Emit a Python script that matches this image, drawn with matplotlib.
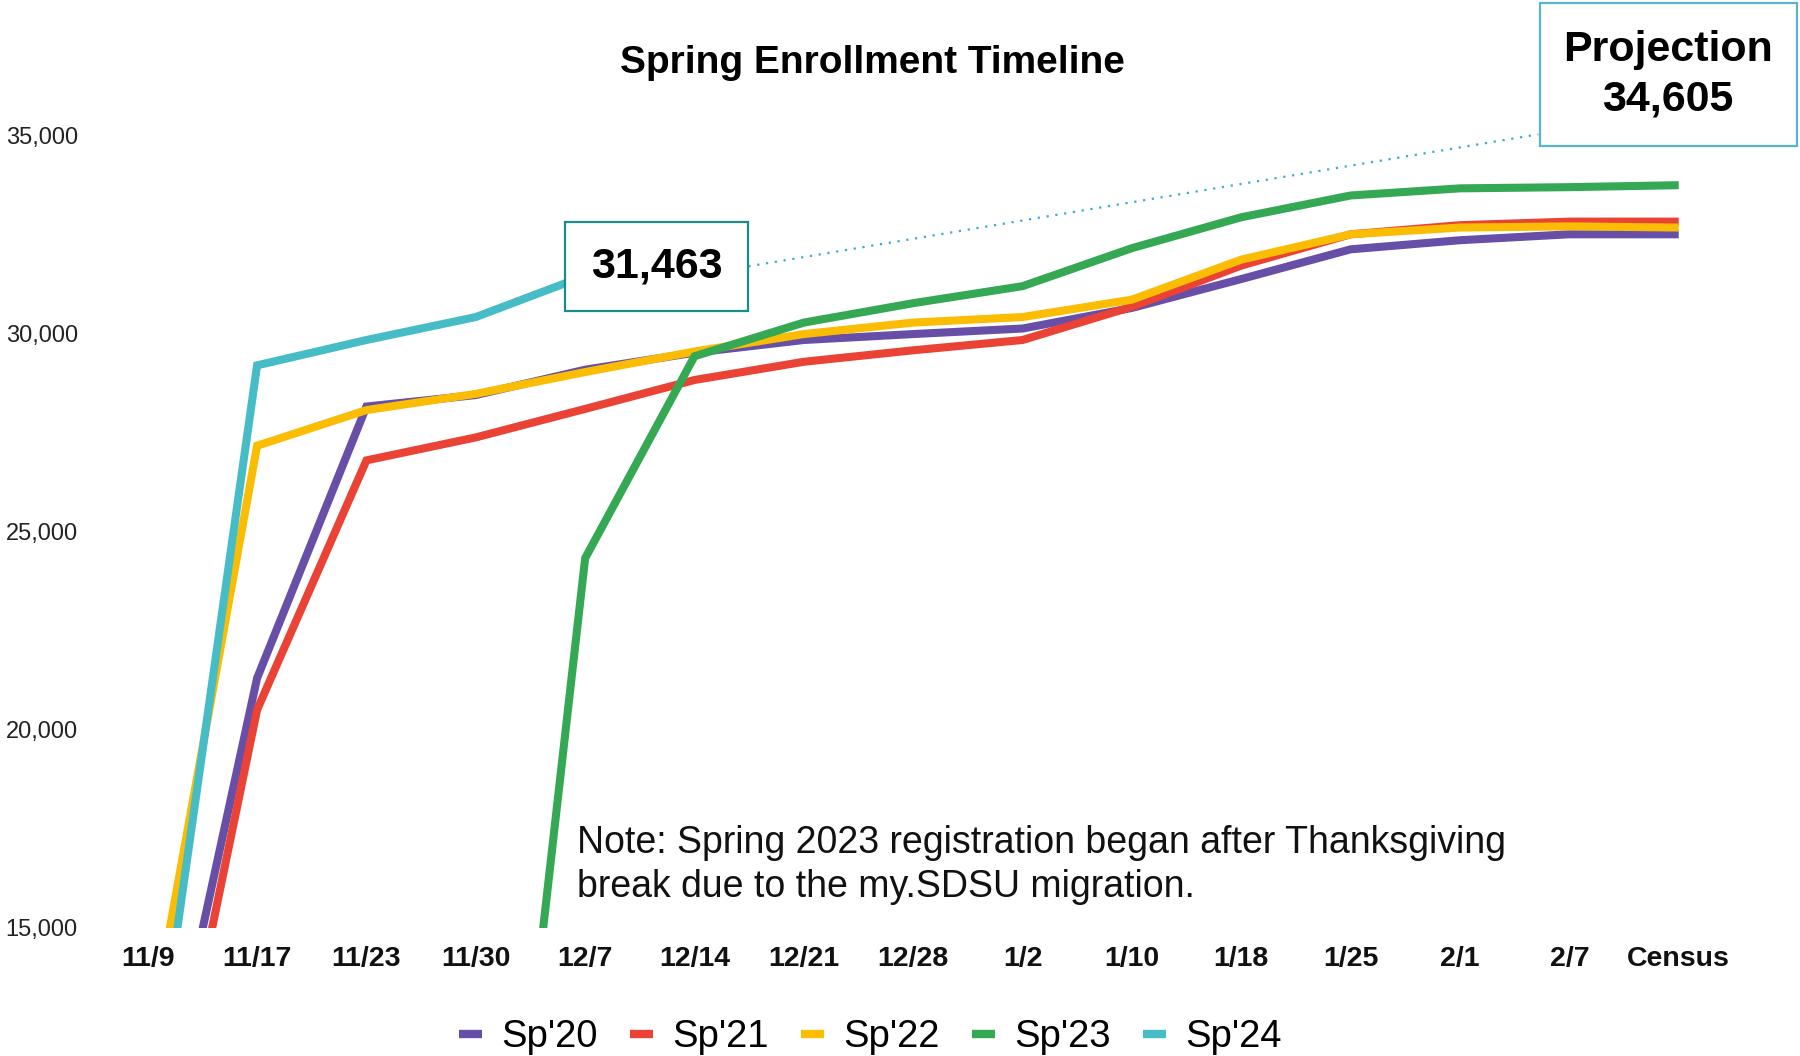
import matplotlib.pyplot as plt
from matplotlib.lines import Line2D
from matplotlib.patches import Rectangle
from matplotlib.ticker import FuncFormatter

plt.rcParams['font.family'] = ['Liberation Sans', 'DejaVu Sans']

# registration checkpoints
dates = ['11/9', '11/17', '11/23', '11/30', '12/7', '12/14', '12/21', '12/28',
         '1/2', '1/10', '1/18', '1/25', '2/1', '2/7', 'Census']

sp20 = [8600, 21300, 28160, 28450, 29090, 29520, 29840, 29990, 30130, 30650,
        31380, 32130, 32360, 32510, 32510]
sp21 = [7100, 20500, 26800, 27380, 28100, 28830, 29290, 29580, 29840, 30680,
        31720, 32510, 32740, 32830, 32830]
sp22 = [11900, 27170, 28070, 28480, 29030, 29550, 29990, 30280, 30420, 30860,
        31870, 32510, 32680, 32710, 32680]
sp23 = [0, 0, 0, 0, 24330, 29430, 30280, 30770, 31200, 32160,
        32940, 33490, 33670, 33700, 33750]
sp24 = [9700, 29200, 29840, 30420, 31463]

series = [("Sp'20", sp20, '#674EA7'),
          ("Sp'21", sp21, '#EA4335'),
          ("Sp'22", sp22, '#FBBC04'),
          ("Sp'23", sp23, '#34A853'),
          ("Sp'24", sp24, '#46BDC6')]

current = '31,463'
projection = 'Projection\n34,605'
note = ('Note: Spring 2023 registration began after Thanksgiving\n'
        'break due to the my.SDSU migration.')

fig = plt.figure(figsize=(18, 10.56), dpi=100)
ax = fig.add_axes([0.0517, 0.1216, 0.9113, 0.7874])

x = list(range(len(dates)))
for name, vals, col in series:
    ax.plot(x[:len(vals)], vals, color=col, lw=5.8, label=name,
            solid_joinstyle='miter', solid_capstyle='butt')

ax.set_xlim(-0.5, len(dates) - 0.5)
ax.set_ylim(15000, 36000)
ax.set_yticks([15000, 20000, 25000, 30000, 35000])
ax.yaxis.set_major_formatter(FuncFormatter(lambda v, p: f'{int(v):,}'))
ax.set_xticks(x)
ax.set_xticklabels(dates, fontweight='bold')
ax.tick_params(axis='x', length=0, pad=13, labelsize=20.5, labelcolor='#111111')
ax.tick_params(axis='y', length=0, pad=11, labelsize=17, labelcolor='#222222')
for s in ax.spines.values():
    s.set_visible(False)

fig.text(0.4847, 0.940, 'Spring Enrollment Timeline', ha='center', va='center',
         fontsize=28, fontweight='bold')

fig.text(0.3208, 0.1805, note, ha='left', va='center', fontsize=27,
         linespacing=1.28, color='#111111')

# dotted trend to the projection
fig.add_artist(Line2D([0.4158, 0.8546], [0.7478, 0.8728], transform=fig.transFigure,
                      color='#3FA9D0', lw=1.6, linestyle=(0, (1, 3))))

# boxed callouts
fig.add_artist(Rectangle((0.3139, 0.7054), 0.1019, 0.0848, transform=fig.transFigure,
                         facecolor='white', edgecolor='#1A8C8C', lw=1.6, zorder=5))
fig.text(0.3648, 0.7478, current, ha='center', va='center', fontsize=31,
         fontweight='bold', zorder=6)

fig.add_artist(Rectangle((0.8553, 0.8619), 0.1433, 0.1349, transform=fig.transFigure,
                         facecolor='white', edgecolor='#5AB4CC', lw=1.6, zorder=5))
fig.text(0.9267, 0.9293, projection, ha='center', va='center', fontsize=31,
         fontweight='bold', linespacing=1.3, zorder=6)

handles = [Line2D([], [], color=col, lw=6, solid_capstyle='butt') for _, _, col in series]
fig.legend(handles, [s[0] for s in series], loc='center', bbox_to_anchor=(0.4835, 0.018),
           ncol=5, frameon=False, fontsize=27.5, handlelength=0.6, handletextpad=0.5,
           columnspacing=0.85)

fig.savefig('out.png', dpi=100)
